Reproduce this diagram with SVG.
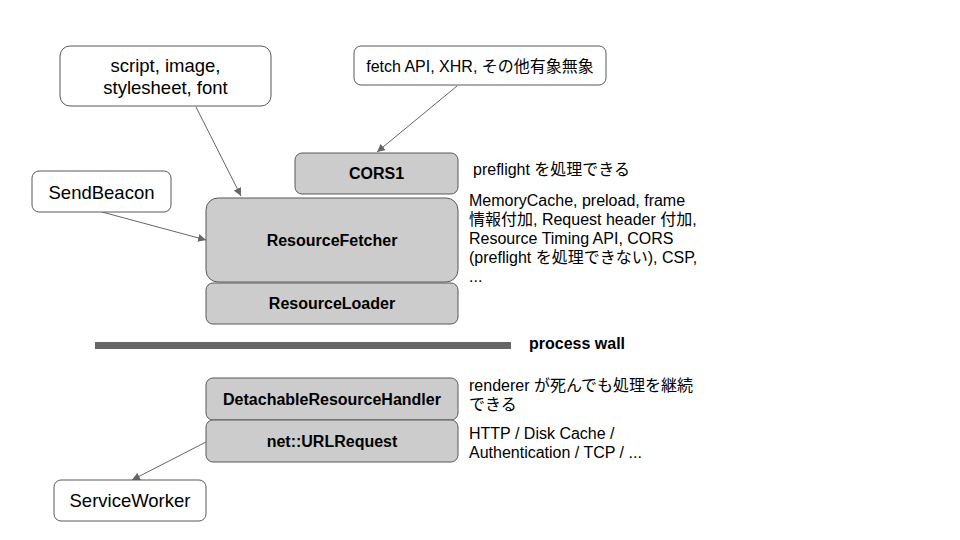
<svg xmlns="http://www.w3.org/2000/svg" width="960" height="540" viewBox="0 0 960 540">
<defs>
<style>
.w{fill:#ffffff;stroke:#595959;stroke-width:1}
.g{fill:#cccccc;stroke:#595959;stroke-width:1}
.tw{font-family:"Liberation Sans",Arial,"Noto Sans CJK JP",sans-serif;font-size:18.5px;fill:#000;text-anchor:middle}
.tb{font-family:"Liberation Sans",Arial,"Noto Sans CJK JP",sans-serif;font-size:16px;font-weight:bold;fill:#000;text-anchor:middle}
.tn{font-family:"Liberation Sans",Arial,"Noto Sans CJK JP",sans-serif;font-size:16px;fill:#000}
.start{text-anchor:start}
.c{stroke:#666666;stroke-width:1;fill:none;marker-end:url(#ah)}
</style>
<marker id="ah" viewBox="0 0 10 10" refX="10" refY="5" markerWidth="8" markerHeight="8" markerUnits="userSpaceOnUse" orient="auto">
<path d="M0,0 L10,5 L0,10 z" fill="#666666"/>
</marker>
</defs>
<rect width="960" height="540" fill="#ffffff"/>

<g id="connectors">
<line class="c" x1="196" y1="107" x2="241" y2="196"/>
<line class="c" x1="457" y1="86" x2="377" y2="152"/>
<line class="c" x1="102" y1="212" x2="206" y2="240"/>
<line class="c" x1="206" y1="442" x2="132" y2="480"/>
</g>

<g id="node-script">
<rect class="w" x="60" y="46" width="211" height="60" rx="10"/>
<text class="tw" x="165.5" y="72">script, image,</text>
<text class="tw" x="165.5" y="94">stylesheet, font</text>
</g>

<g id="node-fetch">
<rect class="w" x="354" y="46" width="252" height="39" rx="7"/>
<text class="tn" x="480" y="72" text-anchor="middle">fetch API, XHR, その他有象無象</text>
</g>

<g id="node-sendbeacon">
<rect class="w" x="32" y="171" width="139" height="41" rx="7"/>
<text class="tw" x="101.5" y="199">SendBeacon</text>
</g>

<g id="node-cors1">
<rect class="g" x="295" y="153" width="163" height="41" rx="7"/>
<text class="tb" x="376.5" y="179">CORS1</text>
</g>

<g id="node-resourcefetcher">
<rect class="g" x="206" y="198" width="252" height="84" rx="12"/>
<text class="tb" x="332" y="246">ResourceFetcher</text>
</g>

<g id="node-resourceloader">
<rect class="g" x="206" y="283" width="252" height="41" rx="7"/>
<text class="tb" x="332" y="309">ResourceLoader</text>
</g>

<g id="process-wall">
<rect x="95" y="342" width="416" height="7" fill="#666666"/>
<text class="tb start" x="529" y="349">process wall</text>
</g>

<g id="node-detachable">
<rect class="g" x="206" y="378" width="252" height="42" rx="7"/>
<text class="tb" x="332" y="405">DetachableResourceHandler</text>
</g>

<g id="node-urlrequest">
<rect class="g" x="206" y="420" width="252" height="42" rx="7"/>
<text class="tb" x="332" y="447">net::URLRequest</text>
</g>

<g id="node-serviceworker">
<rect class="w" x="54" y="480" width="152" height="41" rx="7"/>
<text class="tw" x="130" y="507">ServiceWorker</text>
</g>

<g id="notes">
<text class="tn" x="473" y="175">preflight を処理できる</text>
<text class="tn" x="469" y="206">MemoryCache, preload, frame</text>
<text class="tn" x="469" y="225">情報付加, Request header 付加,</text>
<text class="tn" x="469" y="244">Resource Timing API, CORS</text>
<text class="tn" x="469" y="263">(preflight を処理できない), CSP,</text>
<text class="tn" x="469" y="282">...</text>
<text class="tn" x="469" y="391">renderer が死んでも処理を継続</text>
<text class="tn" x="469" y="410">できる</text>
<text class="tn" x="469" y="439">HTTP / Disk Cache /</text>
<text class="tn" x="469" y="458">Authentication / TCP / ...</text>
</g>
</svg>
